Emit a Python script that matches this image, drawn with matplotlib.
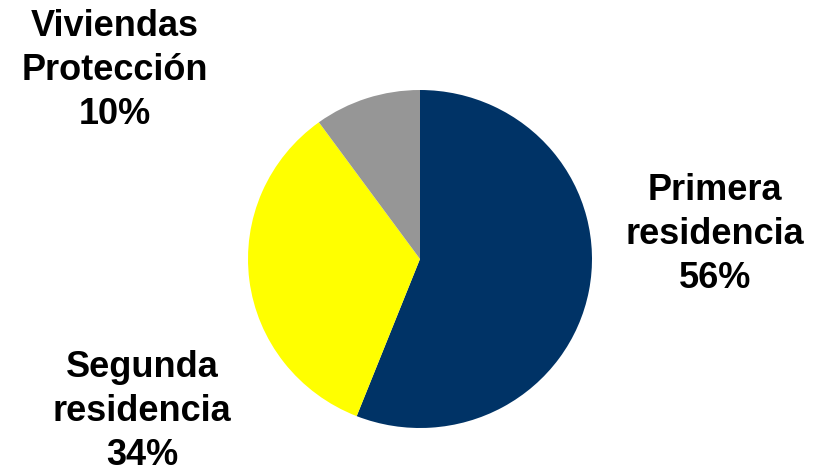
import matplotlib
matplotlib.use("Agg")
import matplotlib.pyplot as plt

# Housing mix
labels = ["Primera\nresidencia", "Segunda\nresidencia", "Viviendas\nProtección"]
shares = [56, 34, 10]
colors = ["#003366", "#FFFF00", "#969696"]

W, H = 814, 468
fig = plt.figure(figsize=(W / 100, H / 100), dpi=100, facecolor="white")

# pie box in pixels (centre, radii)
cx, cy, rx, ry = 420, 259, 172, 169
ax = fig.add_axes([(cx - rx) / W, (H - cy - ry) / H, 2 * rx / W, 2 * ry / H])
ax.pie(shares, colors=colors, startangle=90, counterclock=False,
       radius=1, wedgeprops=dict(linewidth=0))
ax.set_xlim(-1, 1)
ax.set_ylim(-1, 1)
ax.set_aspect("auto")
ax.axis("off")

# label anchors: centre x and last-line baseline y, in pixels
label_pos = [(715, 288), (142, 465), (115, 124)]
for lab, pct, (x, y) in zip(labels, shares, label_pos):
    fig.text(x / W, 1 - y / H, f"{lab}\n{pct}%", ha="center", va="baseline",
             fontsize=26, fontweight="bold", family="Liberation Sans",
             linespacing=1.33, color="black")

fig.savefig("out.png", dpi=100, facecolor="white")
